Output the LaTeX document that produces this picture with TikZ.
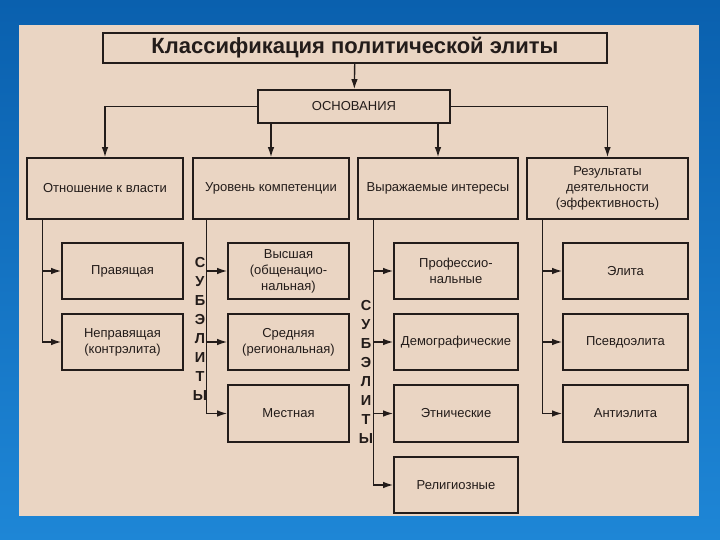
\documentclass[tikz,border=0pt]{standalone}
\usepackage{fontspec}
\setmainfont{Liberation Sans}
\usepackage{tikz}
\usetikzlibrary{arrows,arrows.meta,positioning,calc}
\definecolor{paper}{HTML}{EAD5C3}
\definecolor{slidetop}{HTML}{0A60AE}
\definecolor{slidebot}{HTML}{1E86D6}
\definecolor{ink}{HTML}{231C1A}

\begin{document}
\begin{tikzpicture}[
    x=1pt, y=-1pt,
    >={Latex[length=10pt,width=6.5pt]},
    font=\fontsize{13}{16}\selectfont,
    box/.style={
		rectangle,
		draw=ink,
		line width=1.6pt,
		text=ink,
		align=center,
		inner sep=2pt
	},
	head/.style={
		box,
		minimum width=156pt,
		minimum height=61pt
	},
	sub/.style={
		box,
		minimum height=56.5pt
	},
	letters/.style={
		text=ink,
		align=center,
		font=\bfseries\fontsize{14.5}{19}\selectfont
	},
	link/.style={
		draw=ink,
		line width=1.4pt
	}
  ]
  \useasboundingbox (0,0) rectangle (720,540);
  % slide and scanned page
  \shade [top color=slidetop, bottom color=slidebot] (0,0) rectangle (720,540);
  \fill [paper] (19,25) rectangle (699,516);

  % top of the scheme
  \node [box, minimum width=504pt, minimum height=30pt,
         font=\bfseries\fontsize{22}{22}\selectfont] (title) at (355,48)
    {Классификация политической элиты};
  \node [box, minimum width=192pt, minimum height=33pt] (osn) at (354,106.5)
    {ОСНОВАНИЯ};

  % the four grounds
  \node [head] (power) at (105,188.5) {Отношение к власти};
  \node [head] (level) at (271,188.5) {Уровень компетенции};
  \node [head, minimum width=160pt] (interest) at (438,188.5) {Выражаемые интересы};
  \node [head, minimum width=161pt] (result) at (607.5,188.5)
    {Результаты\\деятельности\\(эффективность)};

  % power
  \node [sub, minimum width=121pt] (ruling) at (122.5,271) {Правящая};
  \node [sub, minimum width=121pt] (nonruling) at (122.5,342) {Неправящая\\(контрэлита)};

  % level
  \node [sub, minimum width=121pt] (high) at (288.5,271) {Высшая\\(общенацио-\\нальная)};
  \node [sub, minimum width=121pt] (middle) at (288.5,342) {Средняя\\(региональная)};
  \node [sub, minimum width=121pt] (local) at (288.5,413.5) {Местная};

  % interests
  \node [sub, minimum width=124pt] (prof) at (456,271) {Профессио-\\нальные};
  \node [sub, minimum width=124pt] (demo) at (456,342) {Демографические};
  \node [sub, minimum width=124pt] (ethnic) at (456,413.5) {Этнические};
  \node [sub, minimum width=124pt] (relig) at (456,485) {Религиозные};

  % results
  \node [sub, minimum width=125pt] (elite) at (625.5,271) {Элита};
  \node [sub, minimum width=125pt] (pseudo) at (625.5,342) {Псевдоэлита};
  \node [sub, minimum width=125pt] (anti) at (625.5,413.5) {Антиэлита};

  % vertical captions
  \node [letters] (subA) at (200,329) {С\\У\\Б\\Э\\Л\\И\\Т\\Ы};
  \node [letters] (subB) at (366,371.5) {С\\У\\Б\\Э\\Л\\И\\Т\\Ы};

  % connectors
  \draw [link,->] (title) -- (osn);
  \draw [link,->] (osn.west) -| (power.north);
  \draw [link,->] (osn.east) -| (result.north);
  \draw [link,->] (osn.south -| level.north) -- (level.north);
  \draw [link,->] (osn.south -| interest.north) -- (interest.north);

  \draw [link,->] ([xshift=16pt]power.south west) |- (ruling.west);
  \draw [link,->] ([xshift=16pt]power.south west) |- (nonruling.west);

  \draw [link,->] ([xshift=14pt]level.south west) |- (high.west);
  \draw [link,->] ([xshift=14pt]level.south west) |- (middle.west);
  \draw [link,->] ([xshift=14pt]level.south west) |- (local.west);

  \draw [link,->] ([xshift=16pt]interest.south west) |- (prof.west);
  \draw [link,->] ([xshift=16pt]interest.south west) |- (demo.west);
  \draw [link,->] ([xshift=16pt]interest.south west) |- (ethnic.west);
  \draw [link,->] ([xshift=16pt]interest.south west) |- (relig.west);

  \draw [link,->] ([xshift=16pt]result.south west) |- (elite.west);
  \draw [link,->] ([xshift=16pt]result.south west) |- (pseudo.west);
  \draw [link,->] ([xshift=16pt]result.south west) |- (anti.west);

\end{tikzpicture}
\end{document}
